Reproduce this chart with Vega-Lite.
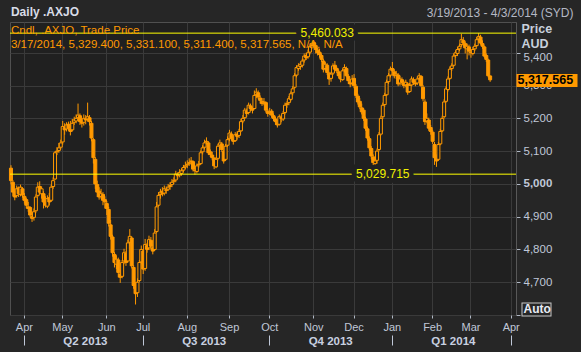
{
"$schema": "https://vega.github.io/schema/vega-lite/v6.json",
"width": 506, "height": 293,
"autosize": "none",
"padding": {"left": 10, "top": 22, "right": 65, "bottom": 37},
"background": "#262626",
"config": {
  "view": {"fill": "#202020", "stroke": "#505050"},
  "font": "Liberation Sans"
},
"title": {
  "text": "Daily .AXJO",
  "subtitle": ["Cndl, .AXJO, Trade Price", "3/17/2014, 5,329.400, 5,331.100, 5,311.400, 5,317.565, N/A, N/A"],
  "anchor": "start", "offset": -45, "dx": 2,
  "font": "Liberation Sans", "fontSize": 12, "fontWeight": "bold", "color": "#d8dce6",
  "subtitleFont": "Liberation Sans", "subtitleColor": "#ff9900", "subtitleFontSize": 11.5,
  "subtitlePadding": 6, "subtitleLineHeight": 13.5
},
"datasets": {
"ohlc": [
{"d":"2013-03-20","o":5048,"h":5057,"l":4998,"c":5010},
{"d":"2013-03-21","o":5005,"h":5012,"l":4962,"c":4975},
{"d":"2013-03-22","o":4978,"h":4985,"l":4950,"c":4960},
{"d":"2013-03-25","o":4965,"h":4995,"l":4958,"c":4985},
{"d":"2013-03-26","o":4988,"h":4992,"l":4960,"c":4970},
{"d":"2013-03-27","o":4968,"h":4998,"l":4962,"c":4990},
{"d":"2013-03-28","o":4985,"h":4990,"l":4958,"c":4966},
{"d":"2013-04-02","o":4962,"h":4972,"l":4940,"c":4950},
{"d":"2013-04-03","o":4952,"h":4958,"l":4925,"c":4935},
{"d":"2013-04-04","o":4930,"h":4945,"l":4915,"c":4925},
{"d":"2013-04-05","o":4928,"h":4932,"l":4898,"c":4905},
{"d":"2013-04-08","o":4900,"h":4912,"l":4884,"c":4895},
{"d":"2013-04-09","o":4898,"h":4925,"l":4888,"c":4915},
{"d":"2013-04-10","o":4918,"h":4968,"l":4912,"c":4960},
{"d":"2013-04-11","o":4965,"h":5005,"l":4960,"c":4990},
{"d":"2013-04-12","o":4992,"h":5008,"l":4968,"c":4975},
{"d":"2013-04-15","o":4970,"h":4992,"l":4955,"c":4985},
{"d":"2013-04-16","o":4970,"h":4978,"l":4925,"c":4945},
{"d":"2013-04-17","o":4948,"h":4962,"l":4928,"c":4935},
{"d":"2013-04-18","o":4932,"h":4965,"l":4926,"c":4955},
{"d":"2013-04-19","o":4958,"h":4972,"l":4935,"c":4945},
{"d":"2013-04-22","o":4950,"h":4998,"l":4945,"c":4990},
{"d":"2013-04-23","o":4992,"h":5020,"l":4985,"c":5010},
{"d":"2013-04-24","o":5015,"h":5100,"l":5012,"c":5095},
{"d":"2013-04-26","o":5098,"h":5112,"l":5088,"c":5100},
{"d":"2013-04-29","o":5102,"h":5125,"l":5095,"c":5110},
{"d":"2013-04-30","o":5112,"h":5135,"l":5105,"c":5125},
{"d":"2013-05-01","o":5128,"h":5192,"l":5120,"c":5175},
{"d":"2013-05-02","o":5172,"h":5185,"l":5150,"c":5165},
{"d":"2013-05-03","o":5168,"h":5188,"l":5160,"c":5180},
{"d":"2013-05-06","o":5182,"h":5190,"l":5162,"c":5170},
{"d":"2013-05-07","o":5168,"h":5192,"l":5148,"c":5160},
{"d":"2013-05-08","o":5165,"h":5198,"l":5160,"c":5185},
{"d":"2013-05-09","o":5188,"h":5205,"l":5180,"c":5195},
{"d":"2013-05-10","o":5192,"h":5212,"l":5185,"c":5200},
{"d":"2013-05-13","o":5202,"h":5245,"l":5195,"c":5210},
{"d":"2013-05-14","o":5208,"h":5215,"l":5180,"c":5190},
{"d":"2013-05-15","o":5192,"h":5200,"l":5172,"c":5185},
{"d":"2013-05-16","o":5188,"h":5212,"l":5178,"c":5200},
{"d":"2013-05-17","o":5198,"h":5210,"l":5182,"c":5195},
{"d":"2013-05-20","o":5198,"h":5248,"l":5190,"c":5205},
{"d":"2013-05-21","o":5202,"h":5210,"l":5178,"c":5190},
{"d":"2013-05-22","o":5185,"h":5192,"l":5130,"c":5140},
{"d":"2013-05-23","o":5135,"h":5140,"l":5062,"c":5080},
{"d":"2013-05-24","o":5075,"h":5082,"l":4985,"c":5000},
{"d":"2013-05-27","o":4998,"h":5010,"l":4960,"c":4975},
{"d":"2013-05-28","o":4978,"h":4990,"l":4952,"c":4960},
{"d":"2013-05-29","o":4962,"h":4985,"l":4955,"c":4970},
{"d":"2013-05-30","o":4968,"h":4975,"l":4935,"c":4950},
{"d":"2013-05-31","o":4952,"h":4962,"l":4925,"c":4945},
{"d":"2013-06-03","o":4940,"h":4948,"l":4905,"c":4925},
{"d":"2013-06-04","o":4922,"h":4930,"l":4870,"c":4880},
{"d":"2013-06-05","o":4875,"h":4890,"l":4830,"c":4840},
{"d":"2013-06-06","o":4838,"h":4845,"l":4778,"c":4790},
{"d":"2013-06-07","o":4785,"h":4792,"l":4745,"c":4760},
{"d":"2013-06-11","o":4755,"h":4782,"l":4740,"c":4770},
{"d":"2013-06-12","o":4768,"h":4775,"l":4715,"c":4730},
{"d":"2013-06-13","o":4725,"h":4738,"l":4698,"c":4715},
{"d":"2013-06-14","o":4718,"h":4768,"l":4712,"c":4760},
{"d":"2013-06-17","o":4765,"h":4802,"l":4755,"c":4790},
{"d":"2013-06-18","o":4788,"h":4795,"l":4750,"c":4760},
{"d":"2013-06-19","o":4765,"h":4830,"l":4760,"c":4820},
{"d":"2013-06-20","o":4822,"h":4862,"l":4810,"c":4840},
{"d":"2013-06-21","o":4835,"h":4840,"l":4742,"c":4750},
{"d":"2013-06-24","o":4745,"h":4752,"l":4680,"c":4690},
{"d":"2013-06-25","o":4688,"h":4700,"l":4632,"c":4665},
{"d":"2013-06-26","o":4668,"h":4712,"l":4655,"c":4700},
{"d":"2013-06-27","o":4705,"h":4768,"l":4700,"c":4760},
{"d":"2013-06-28","o":4762,"h":4812,"l":4755,"c":4800},
{"d":"2013-07-01","o":4795,"h":4800,"l":4725,"c":4740},
{"d":"2013-07-02","o":4742,"h":4832,"l":4735,"c":4815},
{"d":"2013-07-03","o":4812,"h":4820,"l":4790,"c":4800},
{"d":"2013-07-04","o":4805,"h":4842,"l":4798,"c":4830},
{"d":"2013-07-05","o":4828,"h":4838,"l":4800,"c":4810},
{"d":"2013-07-08","o":4805,"h":4815,"l":4785,"c":4795},
{"d":"2013-07-09","o":4800,"h":4862,"l":4795,"c":4850},
{"d":"2013-07-10","o":4855,"h":4945,"l":4850,"c":4930},
{"d":"2013-07-11","o":4935,"h":4975,"l":4930,"c":4965},
{"d":"2013-07-12","o":4968,"h":4985,"l":4955,"c":4975},
{"d":"2013-07-15","o":4978,"h":4990,"l":4962,"c":4970},
{"d":"2013-07-16","o":4972,"h":4995,"l":4965,"c":4985},
{"d":"2013-07-17","o":4982,"h":4992,"l":4970,"c":4980},
{"d":"2013-07-18","o":4984,"h":5000,"l":4978,"c":4990},
{"d":"2013-07-19","o":4992,"h":5005,"l":4982,"c":4995},
{"d":"2013-07-22","o":4998,"h":5015,"l":4990,"c":5005},
{"d":"2013-07-23","o":5008,"h":5020,"l":5000,"c":5010},
{"d":"2013-07-24","o":5012,"h":5040,"l":5005,"c":5030},
{"d":"2013-07-25","o":5028,"h":5035,"l":5015,"c":5025},
{"d":"2013-07-26","o":5027,"h":5045,"l":5020,"c":5035},
{"d":"2013-07-29","o":5032,"h":5048,"l":5025,"c":5040},
{"d":"2013-07-30","o":5042,"h":5058,"l":5035,"c":5050},
{"d":"2013-07-31","o":5052,"h":5068,"l":5045,"c":5055},
{"d":"2013-08-01","o":5058,"h":5072,"l":5048,"c":5060},
{"d":"2013-08-02","o":5062,"h":5078,"l":5055,"c":5065},
{"d":"2013-08-05","o":5068,"h":5082,"l":5058,"c":5070},
{"d":"2013-08-06","o":5068,"h":5072,"l":5038,"c":5045},
{"d":"2013-08-07","o":5042,"h":5050,"l":5028,"c":5040},
{"d":"2013-08-08","o":5038,"h":5062,"l":5032,"c":5055},
{"d":"2013-08-09","o":5058,"h":5070,"l":5050,"c":5060},
{"d":"2013-08-12","o":5062,"h":5102,"l":5058,"c":5095},
{"d":"2013-08-13","o":5098,"h":5118,"l":5090,"c":5110},
{"d":"2013-08-14","o":5112,"h":5135,"l":5105,"c":5125},
{"d":"2013-08-15","o":5128,"h":5142,"l":5120,"c":5130},
{"d":"2013-08-16","o":5125,"h":5130,"l":5088,"c":5095},
{"d":"2013-08-19","o":5098,"h":5105,"l":5082,"c":5090},
{"d":"2013-08-20","o":5088,"h":5098,"l":5072,"c":5080},
{"d":"2013-08-21","o":5078,"h":5082,"l":5045,"c":5055},
{"d":"2013-08-22","o":5052,"h":5082,"l":5048,"c":5075},
{"d":"2013-08-23","o":5078,"h":5122,"l":5072,"c":5115},
{"d":"2013-08-26","o":5118,"h":5135,"l":5110,"c":5125},
{"d":"2013-08-27","o":5122,"h":5128,"l":5098,"c":5105},
{"d":"2013-08-28","o":5100,"h":5105,"l":5062,"c":5070},
{"d":"2013-08-29","o":5075,"h":5122,"l":5070,"c":5115},
{"d":"2013-08-30","o":5118,"h":5145,"l":5112,"c":5135},
{"d":"2013-09-02","o":5138,"h":5165,"l":5130,"c":5155},
{"d":"2013-09-03","o":5152,"h":5160,"l":5132,"c":5140},
{"d":"2013-09-04","o":5138,"h":5145,"l":5120,"c":5130},
{"d":"2013-09-05","o":5132,"h":5158,"l":5128,"c":5150},
{"d":"2013-09-06","o":5152,"h":5160,"l":5135,"c":5145},
{"d":"2013-09-09","o":5148,"h":5168,"l":5140,"c":5160},
{"d":"2013-09-10","o":5162,"h":5198,"l":5158,"c":5190},
{"d":"2013-09-11","o":5192,"h":5210,"l":5185,"c":5200},
{"d":"2013-09-12","o":5202,"h":5232,"l":5198,"c":5225},
{"d":"2013-09-13","o":5222,"h":5230,"l":5205,"c":5215},
{"d":"2013-09-16","o":5218,"h":5248,"l":5212,"c":5240},
{"d":"2013-09-17","o":5238,"h":5245,"l":5222,"c":5230},
{"d":"2013-09-18","o":5228,"h":5235,"l":5215,"c":5225},
{"d":"2013-09-19","o":5230,"h":5285,"l":5228,"c":5270},
{"d":"2013-09-20","o":5272,"h":5292,"l":5262,"c":5280},
{"d":"2013-09-23","o":5278,"h":5285,"l":5258,"c":5265},
{"d":"2013-09-24","o":5262,"h":5270,"l":5245,"c":5255},
{"d":"2013-09-25","o":5252,"h":5262,"l":5238,"c":5245},
{"d":"2013-09-26","o":5248,"h":5262,"l":5240,"c":5250},
{"d":"2013-09-27","o":5248,"h":5252,"l":5218,"c":5225},
{"d":"2013-09-30","o":5222,"h":5228,"l":5205,"c":5215},
{"d":"2013-10-01","o":5218,"h":5232,"l":5210,"c":5220},
{"d":"2013-10-02","o":5222,"h":5228,"l":5202,"c":5210},
{"d":"2013-10-03","o":5208,"h":5215,"l":5192,"c":5200},
{"d":"2013-10-04","o":5198,"h":5205,"l":5180,"c":5190},
{"d":"2013-10-07","o":5188,"h":5195,"l":5172,"c":5180},
{"d":"2013-10-08","o":5182,"h":5212,"l":5178,"c":5205},
{"d":"2013-10-09","o":5202,"h":5210,"l":5188,"c":5200},
{"d":"2013-10-10","o":5198,"h":5222,"l":5192,"c":5215},
{"d":"2013-10-11","o":5218,"h":5248,"l":5212,"c":5240},
{"d":"2013-10-14","o":5242,"h":5252,"l":5232,"c":5245},
{"d":"2013-10-15","o":5248,"h":5268,"l":5240,"c":5260},
{"d":"2013-10-16","o":5258,"h":5282,"l":5252,"c":5275},
{"d":"2013-10-17","o":5278,"h":5298,"l":5270,"c":5290},
{"d":"2013-10-18","o":5295,"h":5338,"l":5290,"c":5330},
{"d":"2013-10-21","o":5332,"h":5362,"l":5325,"c":5355},
{"d":"2013-10-22","o":5352,"h":5368,"l":5345,"c":5360},
{"d":"2013-10-23","o":5358,"h":5372,"l":5348,"c":5365},
{"d":"2013-10-24","o":5362,"h":5382,"l":5355,"c":5375},
{"d":"2013-10-25","o":5378,"h":5398,"l":5370,"c":5390},
{"d":"2013-10-28","o":5392,"h":5400,"l":5378,"c":5385},
{"d":"2013-10-29","o":5388,"h":5410,"l":5382,"c":5400},
{"d":"2013-10-30","o":5402,"h":5428,"l":5395,"c":5420},
{"d":"2013-10-31","o":5418,"h":5440,"l":5412,"c":5430},
{"d":"2013-11-01","o":5432,"h":5442,"l":5415,"c":5425},
{"d":"2013-11-04","o":5422,"h":5430,"l":5398,"c":5410},
{"d":"2013-11-05","o":5408,"h":5415,"l":5392,"c":5400},
{"d":"2013-11-06","o":5402,"h":5412,"l":5385,"c":5395},
{"d":"2013-11-07","o":5392,"h":5398,"l":5372,"c":5380},
{"d":"2013-11-08","o":5375,"h":5382,"l":5340,"c":5350},
{"d":"2013-11-11","o":5352,"h":5372,"l":5345,"c":5365},
{"d":"2013-11-12","o":5362,"h":5368,"l":5332,"c":5340},
{"d":"2013-11-13","o":5338,"h":5342,"l":5302,"c":5320},
{"d":"2013-11-14","o":5322,"h":5342,"l":5312,"c":5335},
{"d":"2013-11-15","o":5338,"h":5368,"l":5332,"c":5360},
{"d":"2013-11-18","o":5362,"h":5375,"l":5345,"c":5350},
{"d":"2013-11-19","o":5352,"h":5358,"l":5338,"c":5345},
{"d":"2013-11-20","o":5342,"h":5348,"l":5322,"c":5330},
{"d":"2013-11-21","o":5328,"h":5335,"l":5310,"c":5320},
{"d":"2013-11-22","o":5318,"h":5352,"l":5315,"c":5345},
{"d":"2013-11-25","o":5348,"h":5365,"l":5340,"c":5355},
{"d":"2013-11-26","o":5352,"h":5358,"l":5325,"c":5330},
{"d":"2013-11-27","o":5328,"h":5335,"l":5305,"c":5315},
{"d":"2013-11-28","o":5312,"h":5320,"l":5295,"c":5305},
{"d":"2013-11-29","o":5308,"h":5332,"l":5300,"c":5320},
{"d":"2013-12-02","o":5322,"h":5335,"l":5292,"c":5300},
{"d":"2013-12-03","o":5298,"h":5305,"l":5262,"c":5270},
{"d":"2013-12-04","o":5268,"h":5275,"l":5242,"c":5250},
{"d":"2013-12-05","o":5252,"h":5262,"l":5228,"c":5235},
{"d":"2013-12-06","o":5232,"h":5245,"l":5212,"c":5220},
{"d":"2013-12-09","o":5225,"h":5232,"l":5192,"c":5200},
{"d":"2013-12-10","o":5198,"h":5205,"l":5162,"c":5170},
{"d":"2013-12-11","o":5168,"h":5175,"l":5132,"c":5140},
{"d":"2013-12-12","o":5138,"h":5145,"l":5102,"c":5110},
{"d":"2013-12-13","o":5108,"h":5115,"l":5075,"c":5085},
{"d":"2013-12-16","o":5082,"h":5090,"l":5048,"c":5065},
{"d":"2013-12-17","o":5062,"h":5085,"l":5040,"c":5070},
{"d":"2013-12-18","o":5072,"h":5108,"l":5062,"c":5100},
{"d":"2013-12-19","o":5105,"h":5158,"l":5100,"c":5150},
{"d":"2013-12-20","o":5152,"h":5208,"l":5148,"c":5200},
{"d":"2013-12-23","o":5205,"h":5248,"l":5198,"c":5240},
{"d":"2013-12-24","o":5242,"h":5278,"l":5235,"c":5270},
{"d":"2013-12-27","o":5272,"h":5318,"l":5268,"c":5310},
{"d":"2013-12-30","o":5312,"h":5338,"l":5305,"c":5330},
{"d":"2013-12-31","o":5332,"h":5358,"l":5325,"c":5350},
{"d":"2014-01-02","o":5352,"h":5372,"l":5340,"c":5345},
{"d":"2014-01-03","o":5342,"h":5350,"l":5322,"c":5330},
{"d":"2014-01-06","o":5332,"h":5345,"l":5320,"c":5335},
{"d":"2014-01-07","o":5332,"h":5338,"l":5298,"c":5305},
{"d":"2014-01-08","o":5308,"h":5330,"l":5300,"c":5320},
{"d":"2014-01-09","o":5318,"h":5325,"l":5302,"c":5310},
{"d":"2014-01-10","o":5308,"h":5315,"l":5292,"c":5300},
{"d":"2014-01-13","o":5302,"h":5318,"l":5295,"c":5310},
{"d":"2014-01-14","o":5305,"h":5310,"l":5272,"c":5280},
{"d":"2014-01-15","o":5282,"h":5308,"l":5278,"c":5300},
{"d":"2014-01-16","o":5302,"h":5328,"l":5298,"c":5320},
{"d":"2014-01-17","o":5318,"h":5325,"l":5302,"c":5310},
{"d":"2014-01-20","o":5308,"h":5315,"l":5298,"c":5305},
{"d":"2014-01-21","o":5308,"h":5328,"l":5302,"c":5320},
{"d":"2014-01-22","o":5322,"h":5338,"l":5315,"c":5330},
{"d":"2014-01-23","o":5328,"h":5332,"l":5295,"c":5300},
{"d":"2014-01-24","o":5295,"h":5302,"l":5252,"c":5260},
{"d":"2014-01-28","o":5250,"h":5258,"l":5180,"c":5190},
{"d":"2014-01-29","o":5192,"h":5215,"l":5185,"c":5200},
{"d":"2014-01-30","o":5195,"h":5202,"l":5162,"c":5170},
{"d":"2014-01-31","o":5172,"h":5180,"l":5150,"c":5160},
{"d":"2014-02-03","o":5158,"h":5165,"l":5122,"c":5130},
{"d":"2014-02-04","o":5120,"h":5128,"l":5058,"c":5080},
{"d":"2014-02-05","o":5082,"h":5090,"l":5052,"c":5070},
{"d":"2014-02-06","o":5075,"h":5128,"l":5070,"c":5120},
{"d":"2014-02-07","o":5122,"h":5168,"l":5118,"c":5160},
{"d":"2014-02-10","o":5162,"h":5208,"l":5158,"c":5200},
{"d":"2014-02-11","o":5205,"h":5258,"l":5200,"c":5250},
{"d":"2014-02-12","o":5252,"h":5298,"l":5248,"c":5290},
{"d":"2014-02-13","o":5288,"h":5328,"l":5282,"c":5320},
{"d":"2014-02-14","o":5322,"h":5358,"l":5318,"c":5350},
{"d":"2014-02-17","o":5352,"h":5368,"l":5345,"c":5360},
{"d":"2014-02-18","o":5362,"h":5398,"l":5358,"c":5390},
{"d":"2014-02-19","o":5392,"h":5408,"l":5385,"c":5400},
{"d":"2014-02-20","o":5398,"h":5418,"l":5390,"c":5410},
{"d":"2014-02-21","o":5412,"h":5428,"l":5405,"c":5420},
{"d":"2014-02-24","o":5425,"h":5458,"l":5418,"c":5440},
{"d":"2014-02-25","o":5438,"h":5448,"l":5420,"c":5430},
{"d":"2014-02-26","o":5428,"h":5435,"l":5398,"c":5415},
{"d":"2014-02-27","o":5412,"h":5428,"l":5380,"c":5420},
{"d":"2014-02-28","o":5418,"h":5425,"l":5392,"c":5405},
{"d":"2014-03-03","o":5402,"h":5410,"l":5385,"c":5400},
{"d":"2014-03-04","o":5398,"h":5418,"l":5392,"c":5410},
{"d":"2014-03-05","o":5412,"h":5428,"l":5405,"c":5420},
{"d":"2014-03-06","o":5422,"h":5448,"l":5418,"c":5440},
{"d":"2014-03-07","o":5442,"h":5460.033,"l":5432,"c":5450},
{"d":"2014-03-10","o":5448,"h":5455,"l":5425,"c":5430},
{"d":"2014-03-11","o":5428,"h":5438,"l":5412,"c":5420},
{"d":"2014-03-12","o":5418,"h":5422,"l":5385,"c":5390},
{"d":"2014-03-13","o":5392,"h":5398,"l":5372,"c":5380},
{"d":"2014-03-14","o":5378,"h":5382,"l":5325,"c":5330},
{"d":"2014-03-17","o":5329.4,"h":5331.1,"l":5311.4,"c":5317.565}
],
"future": [
{"d":"2014-03-18"},{"d":"2014-03-19"},{"d":"2014-03-20"},{"d":"2014-03-21"},{"d":"2014-03-24"},
{"d":"2014-03-25"},{"d":"2014-03-26"},{"d":"2014-03-27"},{"d":"2014-03-28"},{"d":"2014-03-31"},
{"d":"2014-04-01"},{"d":"2014-04-02"},{"d":"2014-04-03"}
],
"levels": [
{"v":5460.033,"d":"2013-11-12"},
{"v":5029.715,"d":"2013-12-23"}
]
},
"layer": [
{
  "data": {"name": "ohlc"},
  "mark": {"type": "rule", "color": "#ff9900", "strokeWidth": 1},
  "encoding": {
    "x": {"field": "d", "type": "ordinal", "scale": {"paddingInner": 0, "paddingOuter": 0},
      "axis": {"orient": "bottom", "values": ["2013-04-02","2013-05-01","2013-06-03","2013-07-01","2013-08-01","2013-09-02","2013-10-01","2013-11-01","2013-12-02","2014-01-02","2014-02-03","2014-03-03","2014-04-01"],
        "labelExpr": "utcFormat(toDate(datum.value), '%b')", "labelAngle": 0,
        "labelColor": "#c0c8d8", "labelFontSize": 11, "labelPadding": 3, "labelFont": "Liberation Sans",
        "tickSize": 3, "tickColor": "#b0b8c4", "domain": false,
        "grid": true, "gridColor": "#3a3a3a",
        "title": "3/19/2013 - 4/3/2014 (SYD)", "titleX": 563, "titleY": -299, "titleAlign": "right", "titleBaseline": "alphabetic",
        "titleAnchor": null, "titleFontWeight": "normal", "titleFontSize": 12, "titleColor": "#b4b8c4", "titleFont": "Liberation Sans"}},
    "y": {"field": "l", "type": "quantitative", "scale": {"domain": [4600, 5494], "nice": false, "zero": false},
      "axis": {"orient": "right", "values": [4600,4700,4800,4900,5000,5100,5200,5300,5400],
        "labelExpr": "datum.value == 4600 ? '' : format(datum.value, ',d')",
        "labelColor": "#c0c8d8", "labelFontSize": 11.5, "labelPadding": 3, "labelFont": "Liberation Sans",
        "labelFontWeight": {"condition": {"test": "datum.value == 5000", "value": "bold"}, "value": "normal"},
        "labelOffset": {"condition": {"test": "datum.value == 5400", "value": 5}, "value": 0},
        "tickSize": 4, "tickColor": "#b0b8c4", "domain": true, "domainColor": "#585858",
        "grid": true, "gridColor": "#3a3a3a",
        "title": ["Price", "AUD"], "titleAngle": 0, "titleX": 5, "titleY": 10, "titleAlign": "left", "titleBaseline": "alphabetic",
        "titleFontWeight": "bold", "titleFontSize": 12.5, "titleColor": "#c8d0dc", "titleLineHeight": 15, "titleFont": "Liberation Sans"}},
    "y2": {"field": "h"}
  }
},
{
  "data": {"name": "ohlc"},
  "mark": {"type": "bar", "width": 3, "stroke": "#ff9900", "strokeWidth": 1},
  "encoding": {
    "x": {"field": "d", "type": "ordinal", "axis": null},
    "y": {"field": "o", "type": "quantitative", "axis": null},
    "y2": {"field": "c"},
    "fill": {"condition": {"test": "datum.c < datum.o", "value": "#ff9900"}, "value": "#202020"}
  }
},
{
  "data": {"name": "future"},
  "mark": {"type": "point", "opacity": 0},
  "encoding": {
    "x": {"field": "d", "type": "ordinal",
      "axis": {"orient": "bottom", "values": ["2013-04-02","2013-07-01","2013-10-01","2014-01-02","2014-04-01"],
        "labelExpr": "datum.value < '2014-03' ? 'Q' + utcquarter(toDate(datum.value)) + ' ' + utcyear(toDate(datum.value)) : ''",
        "labelAngle": 0, "offset": 20, "tickSize": 10, "tickColor": "#c0c8d8", "domain": false, "grid": false,
        "labelOffset": 61, "labelPadding": -10, "labelFontWeight": "bold", "labelColor": "#c8d0e0", "labelFontSize": 11.5,
        "labelFont": "Liberation Sans", "title": null}}
  }
},
{
  "data": {"name": "levels"},
  "mark": {"type": "rule", "color": "#ffff00", "strokeWidth": 1},
  "encoding": {
    "y": {"field": "v", "type": "quantitative",
      "axis": {"orient": "right", "values": [5317.565], "labelExpr": "format(datum.value, ',.3f')",
        "tickSize": 61, "tickWidth": 13, "tickColor": "#ff9900", "tickCap": "butt",
        "labelPadding": -60, "labelColor": "#000000", "labelFontWeight": "bold", "labelFontSize": 12.5, "labelFont": "Liberation Sans",
        "domain": false, "grid": false, "title": null}}
  }
},
{
  "data": {"name": "levels"},
  "mark": {"type": "text", "fontSize": 12, "font": "Liberation Sans", "fill": "#202020", "stroke": "#202020", "strokeWidth": 9},
  "encoding": {
    "x": {"field": "d", "type": "ordinal", "axis": null},
    "y": {"field": "v", "type": "quantitative",
      "axis": {"orient": "right", "values": [4619], "labels": false, "offset": 5,
        "tickSize": 30, "tickWidth": 14, "tickColor": "#c8c8c8", "tickCap": "butt", "domain": false, "grid": false, "title": null}},
    "text": {"field": "v", "type": "quantitative", "format": ",.3f"}
  }
},
{
  "data": {"name": "levels"},
  "mark": {"type": "text", "fontSize": 12, "font": "Liberation Sans", "fill": "#f0f000"},
  "encoding": {
    "x": {"field": "d", "type": "ordinal", "axis": null},
    "y": {"field": "v", "type": "quantitative",
      "axis": {"orient": "right", "values": [4619], "labelExpr": "'Auto'", "offset": 6,
        "tickSize": 28, "tickWidth": 12, "tickColor": "#262626", "tickCap": "butt",
        "labelPadding": -27, "labelColor": "#e8ecf4", "labelFontWeight": "bold", "labelFontSize": 12, "labelFont": "Liberation Sans",
        "domain": false, "grid": false, "title": null}},
    "text": {"field": "v", "type": "quantitative", "format": ",.3f"}
  }
}
],
"resolve": {"axis": {"x": "independent", "y": "independent"}}
}
